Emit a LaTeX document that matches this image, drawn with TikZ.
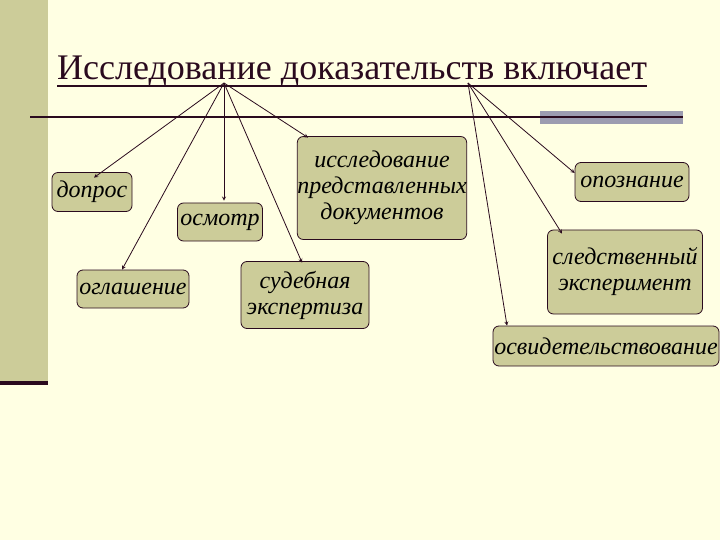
\documentclass[tikz,border=0pt]{standalone}
\usepackage{fontspec}
\setmainfont{Liberation Serif}
\usetikzlibrary{calc}
\definecolor{bg}{HTML}{FFFFE3}
\definecolor{olive}{HTML}{CCCC99}
\definecolor{dark}{HTML}{2A0A1E}
\definecolor{grayblk}{HTML}{9C9CB0}
\begin{document}
\begin{tikzpicture}[x=1pt,y=-1pt,
  box/.style={draw=dark,fill=olive,rounded corners=6pt,line width=0.8pt,font=\fontsize{24}{26}\selectfont\itshape,align=center,inner sep=0pt},
  arr/.style={-stealth,line width=0.8pt,draw=dark}]
\fill[bg] (0,0) rectangle (720,540);
\useasboundingbox (0,0) rectangle (720,540);
\fill[olive] (0,0) rectangle (48,382);
\fill[dark] (0,381) rectangle (48,385);
\fill[grayblk] (540,111) rectangle (683,124);
\draw[dark,line width=2pt] (30,117) -- (683,117);
\node[anchor=base west,font=\fontsize{36}{40}\selectfont,text=dark,inner sep=0pt] (title) at (57,80) {Исследование доказательств включает};
\draw[dark,line width=1.8pt] (title.base west)++(0,6) -- ++(590,0);
\coordinate (s1) at (224,83);
\coordinate (s2) at (468,83);
\node[box,minimum width=80pt,minimum height=39pt] (dopros) at (92,192) {допрос};
\node[box,minimum width=85pt,minimum height=38pt] (osmotr) at (220,222) {осмотр};
\node[box,minimum width=112pt,minimum height=38pt] (ogl) at (133,289) {оглашение};
\node[box,minimum width=169pt,minimum height=103pt] (doc) at (382,188) {исследование\\представленных\\документов};
\node[box,minimum width=128pt,minimum height=67pt] (sud) at (305,295) {судебная\\экспертиза};
\node[box,minimum width=114pt,minimum height=39pt] (opoz) at (632,182) {опознание};
\node[box,minimum width=155pt,minimum height=84pt] (sled) at (625,272) {следственный\\эксперимент};
\node[box,minimum width=226pt,minimum height=40pt] (osv) at (606,346) {освидетельствование};
\draw[arr] (s1) -- ($(dopros.north)+(2,5.5)$);
\draw[arr] (s1) -- ($(ogl.north)+(-11,0)$);
\draw[arr] (s1) -- ($(osmotr.north)+(4,-2)$);
\draw[arr] (s1) -- ($(sud.north)+(-3,1.5)$);
\draw[arr] (s1) -- ($(doc.north)+(-74,1.5)$);
\draw[arr] (s2) -- ($(opoz.west)+(0,-9)$);
\draw[arr] (s2) -- ($(sled.north)+(-63,4)$);
\draw[arr] (s2) -- ($(osv.north)+(-99,0)$);
\end{tikzpicture}
\end{document}
